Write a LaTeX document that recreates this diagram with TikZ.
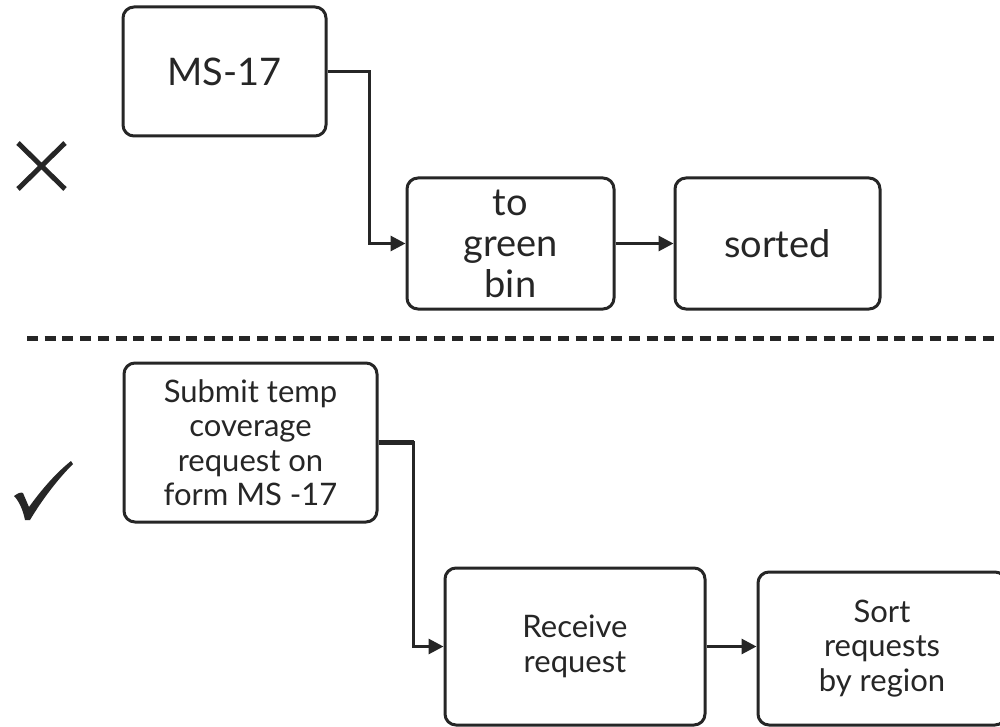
\documentclass[tikz,border=0pt]{standalone}
\usepackage{fontspec}
\setmainfont{Lato}
\usetikzlibrary{arrows.meta}
\begin{document}
\begin{tikzpicture}[x=1pt,y=-1pt,
  box/.style={draw=black!85, line width=3pt, rounded corners=11pt, inner sep=0pt, align=center, text=black!85},
  bigtxt/.style={font=\fontsize{38}{41}\selectfont},
  smalltxt/.style={font=\fontsize{31}{34.5}\selectfont},
  conn/.style={draw=black!85, line width=3pt, -{Triangle[length=15pt,width=15pt]}},
  crossline/.style={draw=black!85, line width=5pt}]
\clip (0,0) rectangle (1000,727);
\fill[white] (0,0) rectangle (1000,727);
% top (wrong) example
\node[box, bigtxt, minimum width=203pt, minimum height=129pt] (b1) at (224.5,71.5) {MS-17};
\node[box, bigtxt, minimum width=207pt, minimum height=131pt] (b2) at (510.5,243.5) {to\\green\\bin};
\node[box, bigtxt, minimum width=205pt, minimum height=131pt] (b3) at (777.5,243.5) {sorted};
\draw[conn] (b1.east) -- ++(42,0) |- (b2.west);
\draw[conn] (b2.east) -- (b3.west);
% cross mark
\coordinate (xa) at (18,143);
\coordinate (xb) at (65,189);
\coordinate (xc) at (65,143);
\coordinate (xd) at (18,189);
\draw[crossline] (xa) -- (xb);
\draw[crossline] (xc) -- (xd);
% separator
\coordinate (s1) at (27,338);
\coordinate (s2) at (1000,338);
\draw[draw=black!85, line width=5pt, dash pattern=on 11pt off 6.7pt] (s1) -- (s2);
% bottom (right) example
\node[box, smalltxt, minimum width=253pt, minimum height=159pt] (b4) at (250.5,442.5) {Submit temp\\coverage\\request on\\form MS -17};
\node[box, smalltxt, minimum width=260pt, minimum height=157pt] (b5) at (575,646.5) {Receive\\request};
\node[box, smalltxt, minimum width=248pt, minimum height=153pt] (b6) at (882,648.5) {Sort\\requests\\by region};
\draw[conn] (b4.east) -- ++(35,0) |- (b5.west);
\draw[draw=black!85, line width=5.5pt] (b4.east) -- ++(35,0);
\draw[conn] (b5.east) -- (b5.east -| b6.west);
% check mark
\fill[black!85] (14,496) .. controls (18,493) and (21,492) .. (23,493)
  -- (29,507) .. controls (42,489) and (56,473) .. (71,461)
  -- (73,464) .. controls (57,480) and (42,500) .. (30,520)
  -- (25,520) .. controls (23,510) and (19,501) .. (14,496) -- cycle;
\end{tikzpicture}
\end{document}
